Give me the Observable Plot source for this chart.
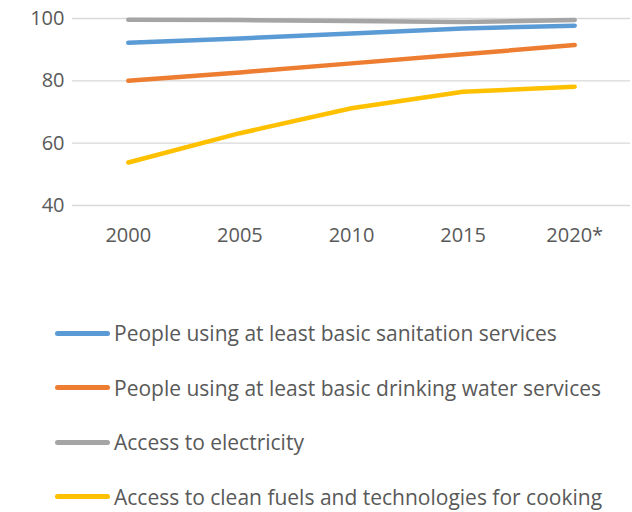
<!DOCTYPE html>
<html>
<head>
<meta charset="utf-8">
<script src="https://cdn.jsdelivr.net/npm/d3@7"></script>
<script src="https://cdn.jsdelivr.net/npm/@observablehq/plot@0.6"></script>
<style>
  html, body { margin: 0; padding: 0; background: #fff; }
  body { width: 632px; height: 512px; overflow: hidden; font-family: "Open Sans", sans-serif; }
  #legend { margin-top: 46px; }
  .row { display: flex; align-items: center; height: 54.5px; }
  .sw { width: 55px; height: 5px; border-radius: 2.5px; margin-left: 55px; margin-right: 4px; }
  .lab { font-size: 21px; color: #595959; white-space: nowrap; }
</style>
</head>
<body>
<div id="chart"></div>
<div id="legend"></div>
<script>
const years = [2000, 2005, 2010, 2015, 2020];
const yearLabels = ["2000", "2005", "2010", "2015", "2020*"];
const seriesNames = [
  "People using at least basic sanitation services",
  "People using at least basic drinking water services",
  "Access to electricity",
  "Access to clean fuels and technologies for cooking"
];
const sanitation = [92.2, 93.6, 95.2, 96.8, 97.7];
const water = [80.0, 82.7, 85.6, 88.5, 91.5];
const electricity = [99.6, 99.5, 99.2, 98.9, 99.5];
const cooking = [53.8, 63.2, 71.2, 76.5, 78.1];
const colors = ["#5B9BD5", "#ED7D31", "#A5A5A5", "#FFC000"];
const yTicks = [40, 60, 80, 100];

const allSeries = [sanitation, water, electricity, cooking];
const data = [];
allSeries.forEach((vals, i) => {
  vals.forEach((v, j) => data.push({series: seriesNames[i], year: years[j], value: v}));
});

const chart = Plot.plot({
  width: 632,
  height: 260,
  marginTop: 18,
  marginBottom: 55,
  marginLeft: 72,
  marginRight: 2,
  style: {fontFamily: "'Open Sans', sans-serif", fontSize: "20px", color: "#595959", background: "#fff"},
  x: {domain: [1997.5, 2022.5], ticks: years, tickFormat: d => yearLabels[years.indexOf(d)], tickSize: 0, tickPadding: 22, label: null},
  y: {domain: [40, 100], ticks: yTicks, tickSize: 0, tickPadding: 8, label: null},
  color: {domain: seriesNames, range: colors},
  marks: [
    Plot.gridY(yTicks, {stroke: "#D9D9D9", strokeOpacity: 1, strokeWidth: 1.3}),
    Plot.axisX({ticks: years, tickFormat: d => yearLabels[years.indexOf(d)], tickSize: 0, tickPadding: 22, fill: "#595959", fontSize: 20}),
    Plot.axisY({ticks: yTicks, tickSize: 0, tickPadding: 8, fill: "#595959", fontSize: 20}),
    Plot.line(data, {x: "year", y: "value", z: "series", stroke: "series", strokeWidth: 4.5, strokeLinecap: "round", strokeLinejoin: "round"})
  ]
});
document.getElementById("chart").appendChild(chart);

const legend = document.getElementById("legend");
seriesNames.forEach((name, i) => {
  const row = document.createElement("div");
  row.className = "row";
  const sw = document.createElement("div");
  sw.className = "sw";
  sw.style.background = colors[i];
  const lab = document.createElement("span");
  lab.className = "lab";
  lab.textContent = name;
  row.appendChild(sw);
  row.appendChild(lab);
  legend.appendChild(row);
});
</script>
</body>
</html>
